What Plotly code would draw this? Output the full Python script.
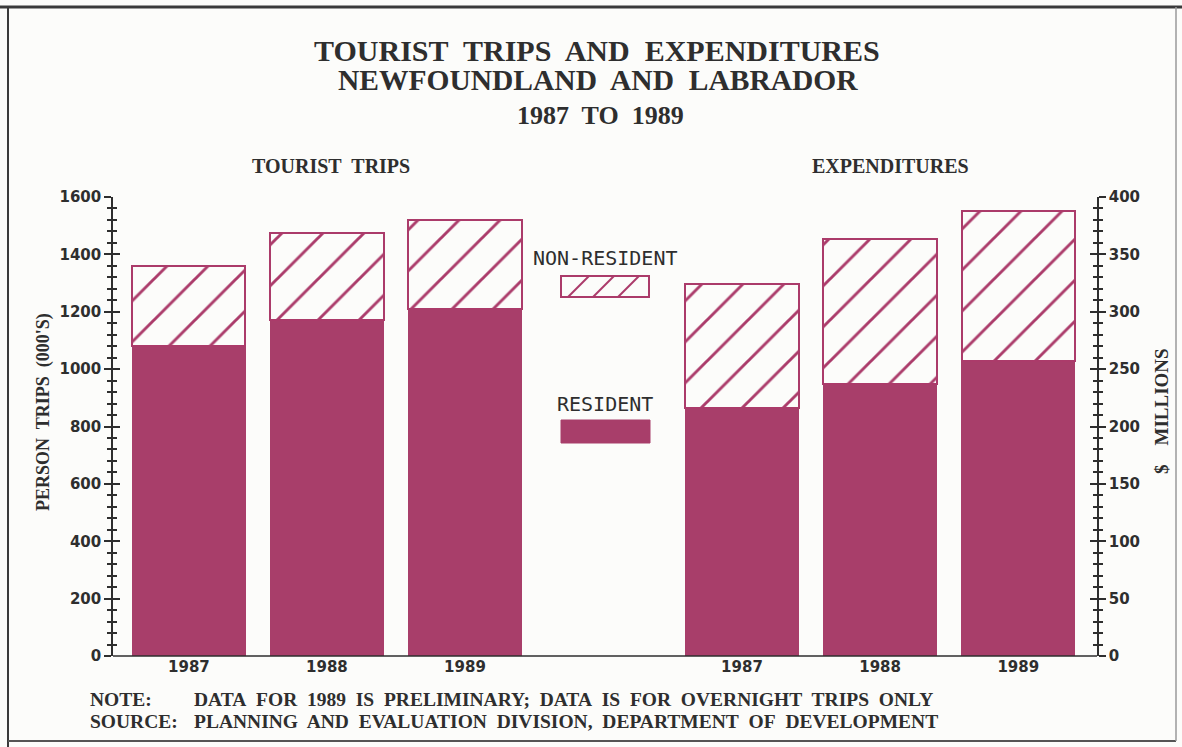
import plotly.graph_objects as go

# ---- data -------------------------------------------------------------
years = ["1987", "1988", "1989"]
trips_resident = [1080, 1170, 1210]        # person trips (000's)
trips_nonresident = [280, 305, 310]
spend_resident = [216, 237, 257]           # $ millions
spend_nonresident = [108, 126, 131]

trips_ticks = [0, 200, 400, 600, 800, 1000, 1200, 1400, 1600]
spend_ticks = [0, 50, 100, 150, 200, 250, 300, 350, 400]

# ---- styling ------------------------------------------------------------
RES = "#a83e6a"
HATCH = "#ab3b6a"
INK = "#2e2e2e"
BG = "#fcfcfa"
W, H = 1182, 747
ML, MR, MT, MB = 113, 85, 197, 91
PW, PH = W - ML - MR, H - MT - MB

SERIF = "Liberation Serif"
TICKFONT = dict(family="DejaVu Sans", size=15, color=INK, weight="bold")


def px(x):
    return (x - ML) / PW


def py(y):
    return (H - MB - y) / PH


def hatched(color):
    return dict(color=BG, line=dict(color=color, width=2),
                pattern=dict(shape="/", fgcolor=color, bgcolor=BG,
                             fgopacity=1, size=29, solidity=0.1))


fig = go.Figure()
fig.add_bar(x=years, y=trips_resident, xaxis="x", yaxis="y", width=0.82,
            marker=dict(color=RES, line=dict(color=RES, width=1)))
fig.add_bar(x=years, y=trips_nonresident, xaxis="x", yaxis="y", width=0.82,
            marker=hatched(HATCH))
fig.add_bar(x=years, y=spend_resident, xaxis="x2", yaxis="y2", width=0.82,
            marker=dict(color=RES, line=dict(color=RES, width=1)))
fig.add_bar(x=years, y=spend_nonresident, xaxis="x2", yaxis="y2", width=0.82,
            marker=hatched(HATCH))
# empty traces so the inner tick overlays get drawn
fig.add_scatter(x=[], y=[], xaxis="x", yaxis="y3", hoverinfo="skip")
fig.add_scatter(x=[], y=[], xaxis="x2", yaxis="y4", hoverinfo="skip")

yax_common = dict(showgrid=False, zeroline=False, showline=True, linecolor=INK,
                  linewidth=1.5, ticks="outside", ticklen=7, tickwidth=1.5,
                  tickcolor=INK, tickfont=TICKFONT, ticklabelstandoff=0,
                  domain=[0, 1])
yax_inner = dict(showgrid=False, zeroline=False, showline=False, ticks="inside",
                 ticklen=7, tickwidth=1.5, tickcolor=INK, showticklabels=False)

fig.update_layout(
    width=W, height=H, margin=dict(l=ML, r=MR, t=MT, b=MB),
    paper_bgcolor=BG, plot_bgcolor=BG, barmode="stack", showlegend=False,
    xaxis=dict(domain=[0, 0.4348], range=[-0.55, 2.55], type="category",
               showline=False, ticks="", showgrid=False, tickfont=TICKFONT,
               anchor="y"),
    xaxis2=dict(domain=[0.562, 1.0], range=[-0.55, 2.57], type="category",
                showline=False, ticks="", showgrid=False, tickfont=TICKFONT,
                anchor="y2"),
    yaxis=dict(range=[0, 1600], tickvals=trips_ticks, anchor="x", side="left",
               minor=dict(dtick=40, ticks="outside", ticklen=4, tickwidth=1.5,
                          tickcolor=INK),
               **yax_common),
    yaxis2=dict(range=[0, 400], tickvals=spend_ticks, anchor="x2", side="right",
                minor=dict(dtick=10, ticks="outside", ticklen=4, tickwidth=1.5,
                           tickcolor=INK),
                **yax_common),
    yaxis3=dict(range=[0, 1600], tickvals=trips_ticks, overlaying="y",
                anchor="x", side="left",
                minor=dict(dtick=40, ticks="inside", ticklen=4, tickwidth=1.5,
                           tickcolor=INK),
                **yax_inner),
    yaxis4=dict(range=[0, 400], tickvals=spend_ticks, overlaying="y2",
                anchor="x2", side="right",
                minor=dict(dtick=10, ticks="inside", ticklen=4, tickwidth=1.5,
                           tickcolor=INK),
                **yax_inner),
)

NB = "\u00a0"


def spaced(s):
    return s.replace(" ", NB + " ")


def label(text, x, y, size, family=SERIF, xanchor="center", angle=0,
          weight="bold"):
    fig.add_annotation(text=text, x=x, y=y, xref="paper", yref="paper",
                       xanchor=xanchor, yanchor="middle", showarrow=False,
                       textangle=angle,
                       font=dict(family=family, size=size, color=INK,
                                 weight=weight))


# titles
label(spaced("TOURIST TRIPS AND EXPENDITURES"), px(597), py(50), 30)
label(spaced("NEWFOUNDLAND AND LABRADOR"), px(598), py(80), 29.5)
label(spaced("1987 TO 1989"), px(600), py(115), 26)
label(spaced("TOURIST TRIPS"), px(331), py(166), 20)
label("EXPENDITURES", px(890), py(166), 20)

# axis titles
label(spaced("PERSON TRIPS (000'S)"), px(43), py(412), 18, angle=-90)
label("$" + NB + NB + NB + " MILLIONS", px(1161), py(411), 19, angle=-90)

# notes
label("NOTE:", px(88), py(699), 19.5, xanchor="left")
label(spaced("DATA FOR 1989 IS PRELIMINARY; DATA IS FOR OVERNIGHT TRIPS ONLY"),
      px(192), py(699), 19.5, xanchor="left")
label("SOURCE:", px(88), py(721), 19.5, xanchor="left")
label(spaced("PLANNING AND EVALUATION DIVISION, DEPARTMENT OF DEVELOPMENT"),
      px(192), py(721), 19.5, xanchor="left")

# legend
label("NON-RESIDENT", px(605), py(258), 20, family="DejaVu Sans Mono",
      weight="normal")
label("RESIDENT", px(605), py(404), 20, family="DejaVu Sans Mono",
      weight="normal")

shapes = []
# hatched swatch
shapes.append(dict(type="rect", xref="paper", yref="paper",
                   x0=px(561), x1=px(649), y0=py(297), y1=py(276),
                   line=dict(color=HATCH, width=2), fillcolor=BG))
for xb in (568, 593, 618):
    shapes.append(dict(type="line", xref="paper", yref="paper",
                       x0=px(xb), y0=py(297), x1=px(xb + 21), y1=py(276),
                       line=dict(color=HATCH, width=2)))
# solid swatch
shapes.append(dict(type="rect", xref="paper", yref="paper",
                   x0=px(561), x1=px(650), y0=py(443), y1=py(420),
                   line=dict(color=RES, width=1), fillcolor=RES))
# continuous baseline across both panels
shapes.append(dict(type="line", xref="paper", yref="paper",
                   x0=0, x1=1, y0=0, y1=0, line=dict(color=INK, width=1.5)))
# page frame
shapes.append(dict(type="line", xref="paper", yref="paper",
                   x0=px(0), x1=px(1182), y0=py(7), y1=py(7),
                   line=dict(color="#3a3a3a", width=3)))
shapes.append(dict(type="line", xref="paper", yref="paper",
                   x0=px(8), x1=px(8), y0=py(7), y1=py(747),
                   line=dict(color="#3a3a3a", width=2)))
shapes.append(dict(type="line", xref="paper", yref="paper",
                   x0=px(8), x1=px(1176), y0=py(741), y1=py(741),
                   line=dict(color="#555555", width=2)))
shapes.append(dict(type="line", xref="paper", yref="paper",
                   x0=px(1176), x1=px(1176), y0=py(7), y1=py(741),
                   line=dict(color="#9a9a9a", width=1.5)))
fig.update_layout(shapes=shapes)

fig.write_html("out.html")
